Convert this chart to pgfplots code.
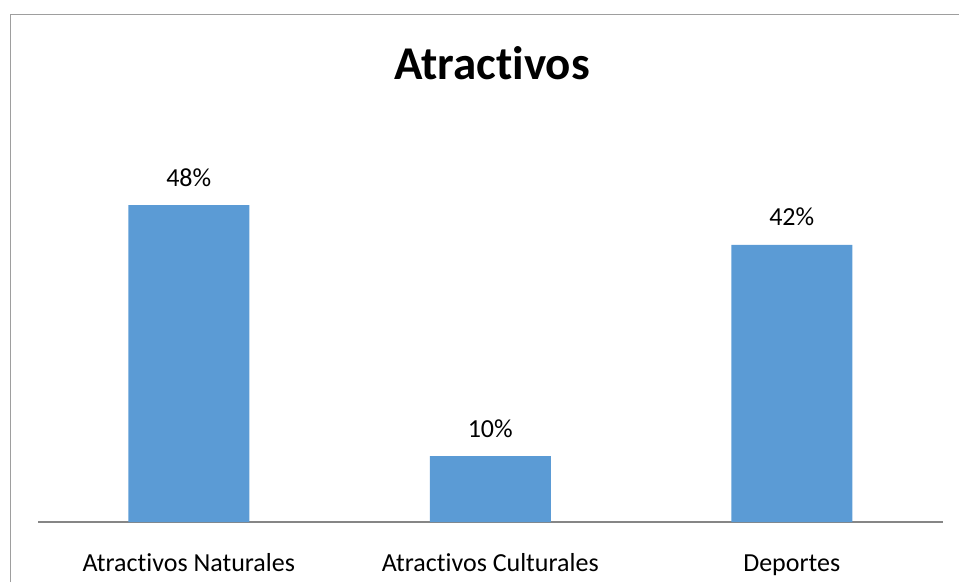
\documentclass[border=0pt]{standalone}
\usepackage{fontspec}
\setmainfont{Carlito}[Ligatures={NoCommon}]
\usepackage{pgfplots}
\pgfplotsset{compat=1.18}
\definecolor{barblue}{RGB}{91,155,213}
\definecolor{axgray}{RGB}{134,134,134}
\begin{document}
\begin{tikzpicture}[x=1pt,y=1pt]
\useasboundingbox (0,0) rectangle (959,582);
\draw[axgray!80, line width=1.5pt] (10.5,0) -- (10.5,567.5) -- (959,567.5);
\node[font=\fontsize{47}{52}\selectfont\bfseries, text height=30.3pt, text depth=0pt, inner sep=0pt, anchor=center] at (492,518) {Atractivos};
\begin{axis}[
  at={(38pt,60pt)}, anchor=south west,
  x=301.5pt, y=6.6pt,
  xmin=-0.5, xmax=2.5, ymin=0, ymax=60,
  axis x line=bottom, axis y line=none,
  x axis line style={axgray, line width=1.2pt, -},
  ybar, bar width=121pt,
  xtick=data, xtick style={draw=none},
  xticklabels={Atractivos Naturales, Atractivos Culturales, Deportes},
  xticklabel style={font=\fontsize{26}{30}\selectfont, text height=16.4pt, text depth=0pt, inner sep=0pt, anchor=center, yshift=-36.7pt},
  ytick=\empty,
  /pgf/number format/assume math mode=true,
  nodes near coords={\pgfmathprintnumber{\pgfplotspointmeta}\%},
  every node near coord/.append style={font=\fontsize{26}{30}\selectfont, text height=16.4pt, text depth=0pt, inner sep=0pt, anchor=center, yshift=27pt, black},
  clip=false,
]
\addplot[fill=barblue, draw=none] coordinates {(0,48) (1,10) (2,42)};
\end{axis}
\end{tikzpicture}
\end{document}
